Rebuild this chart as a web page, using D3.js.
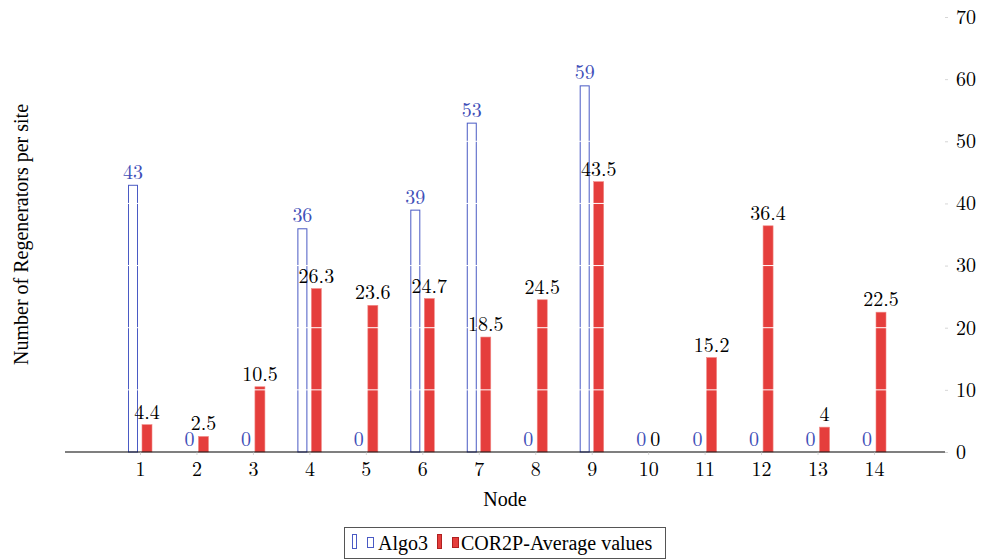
<!DOCTYPE html>
<html>
<head>
<meta charset="utf-8">
<script src="https://cdn.jsdelivr.net/npm/d3@7"></script>
<style>
  body { margin: 0; background: #fff; }
</style>
</head>
<body>
<div id="chart"></div>
<script>
(function(){
  // Regenerators per node: Algo3 vs COR2P average.
  const nodes = [1, 2, 3, 4, 5, 6, 7, 8, 9, 10, 11, 12, 13, 14];
  const algo3 = [43, 0, 0, 36, 0, 39, 53, 0, 59, 0, 0, 0, 0, 0];
  const cor2p = [4.4, 2.5, 10.5, 26.3, 23.6, 24.7, 18.5, 24.5, 43.5, 0, 15.2, 36.4, 4, 22.5];
  const yTicks = [0, 10, 20, 30, 40, 50, 60, 70];
  const seriesNames = ['Algo3', 'COR2P-Average values'];

  const width = 989, height = 559;
  const blue = '#3f4fb8', blueStroke = '#4a5ac4';
  const red = '#e53e3c', redStroke = '#f08a86';
  const cm = "'Latin Modern Roman'";     // numbers look like Computer Modern
  const times = "'Liberation Serif'";    // titles and legend are Times

  const svg = d3.select('#chart').append('svg')
    .attr('width', width).attr('height', height);

  const x = d3.scalePoint().domain(nodes).range([140, 874]);
  const y = d3.scaleLinear().domain([0, 70]).range([452, 17]);
  const axisLeft = 65, axisRight = 945;
  const barW = 10;

  const rows = nodes.map((n, i) => ({node: n, a: algo3[i], c: cor2p[i]}));

  // Algo3 outlined bars sit just left of the tick.
  svg.append('g').selectAll('rect')
    .data(rows.filter(d => d.a > 0))
    .join('rect')
    .attr('x', d => x(d.node) - 2 - barW + 0.5)
    .attr('y', d => y(d.a) + 0.5)
    .attr('width', barW - 1)
    .attr('height', d => y(0) - y(d.a) - 0.5)
    .attr('fill', '#fff')
    .attr('stroke', blueStroke)
    .attr('stroke-width', 1);

  // COR2P filled bars right of the tick.
  svg.append('g').selectAll('rect')
    .data(rows.filter(d => d.c > 0))
    .join('rect')
    .attr('x', d => x(d.node) + 2)
    .attr('y', d => y(d.c))
    .attr('width', barW)
    .attr('height', d => y(0) - y(d.c))
    .attr('fill', red)
    .attr('stroke', redStroke)
    .attr('stroke-width', 0.6);

  // White grid lines run across the bars.
  svg.append('g').selectAll('line')
    .data(yTicks.filter(t => t > 0))
    .join('line')
    .attr('x1', axisLeft).attr('x2', axisRight)
    .attr('y1', d => y(d)).attr('y2', d => y(d))
    .attr('stroke', '#fff').attr('stroke-width', 1);

  // X axis line and ticks.
  svg.append('line')
    .attr('x1', axisLeft).attr('x2', axisRight)
    .attr('y1', y(0)).attr('y2', y(0))
    .attr('stroke', '#000').attr('stroke-width', 1.2);

  const xAxis = svg.append('g')
    .attr('transform', `translate(0,${y(0)})`)
    .call(d3.axisBottom(x).tickSize(3).tickPadding(7));
  xAxis.select('.domain').remove();
  xAxis.selectAll('line').attr('stroke', '#bbb').attr('stroke-width', 0.6);
  xAxis.selectAll('text').attr('fill', '#000')
    .style('font-family', cm).style('font-size', '20px');

  // Y axis on the right.
  const yAxis = svg.append('g')
    .attr('transform', `translate(${axisRight},0)`)
    .call(d3.axisRight(y).tickValues(yTicks).tickSize(3).tickPadding(8));
  yAxis.select('.domain').remove();
  yAxis.selectAll('line').attr('stroke', '#bbb').attr('stroke-width', 0.6);
  yAxis.selectAll('text').attr('fill', '#000')
    .style('font-family', cm).style('font-size', '20px');

  // Value labels.
  svg.append('g').selectAll('text')
    .data(rows)
    .join('text')
    .attr('x', d => x(d.node) - 2 - barW / 2)
    .attr('y', d => y(d.a) - 6)
    .attr('text-anchor', 'middle')
    .attr('fill', blue)
    .style('font-family', cm).style('font-size', '20px')
    .text(d => d.a);

  svg.append('g').selectAll('text')
    .data(rows)
    .join('text')
    .attr('x', d => x(d.node) + 2 + barW / 2)
    .attr('y', d => y(d.c) - 6)
    .attr('text-anchor', 'middle')
    .attr('fill', '#000')
    .style('font-family', cm).style('font-size', '20px')
    .text(d => d.c);

  // Axis titles.
  svg.append('text')
    .attr('x', (axisLeft + axisRight) / 2)
    .attr('y', 506)
    .attr('text-anchor', 'middle')
    .style('font-family', times).style('font-size', '20px')
    .text('Node');

  svg.append('text')
    .attr('transform', `translate(28,${(y(0) + y(70)) / 2}) rotate(-90)`)
    .attr('text-anchor', 'middle')
    .style('font-family', times).style('font-size', '20px')
    .text('Number of Regenerators per site');

  // Legend box along the bottom.
  const legend = svg.append('g').attr('transform', 'translate(344,527)');
  legend.append('rect')
    .attr('x', 0.5).attr('y', 0.5)
    .attr('width', 321).attr('height', 31)
    .attr('fill', '#fff').attr('stroke', '#555').attr('stroke-width', 1);

  const items = [
    {name: seriesNames[0], fill: '#fff', stroke: blueStroke, x: 8, textX: 34},
    {name: seriesNames[1], fill: red, stroke: '#b02020', x: 93, textX: 117}
  ];
  items.forEach(it => {
    legend.append('rect')
      .attr('x', it.x + 0.5).attr('y', 7.5)
      .attr('width', 4).attr('height', 14)
      .attr('fill', it.fill).attr('stroke', it.stroke);
    legend.append('rect')
      .attr('x', it.x + 15.5).attr('y', 10.5)
      .attr('width', 6).attr('height', 10)
      .attr('fill', it.fill).attr('stroke', it.stroke);
    legend.append('text')
      .attr('x', it.textX).attr('y', 23)
      .style('font-family', times).style('font-size', '20px')
      .text(it.name);
  });
})();
</script>
</body>
</html>
